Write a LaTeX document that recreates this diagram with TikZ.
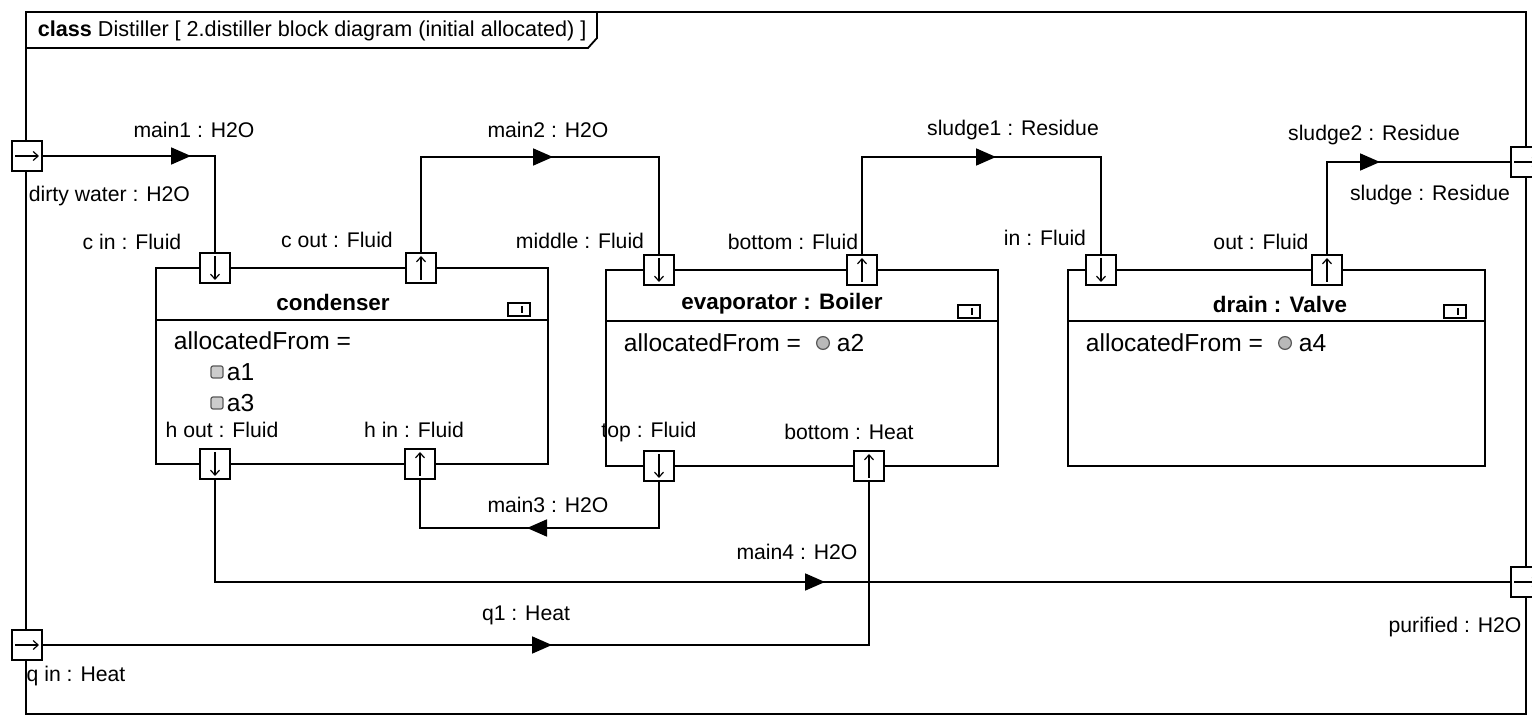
\documentclass[tikz,border=0pt]{standalone}
\usepackage{fontspec}
\setmainfont{Liberation Sans}
\usetikzlibrary{arrows.meta,decorations.markings}

\begin{document}
\begin{tikzpicture}[x=0.5pt, y=-0.5pt, line width=0.9pt,
    lbl/.style={font=\fontsize{10.6}{12}\selectfont, inner sep=0pt},
    body/.style={font=\fontsize{12.3}{14}\selectfont, inner sep=0pt, anchor=west},
    title/.style={font=\fontsize{11.2}{13}\selectfont\bfseries, inner sep=0pt},
    block/.style={draw, inner sep=0pt},
    port/.style={draw, fill=white, minimum size=15pt, inner sep=0pt, line width=0.8pt},
    portin/.style={port, path picture={\draw[line width=0.6pt, -{Straight Barb[length=2.5pt,width=4.5pt]}]
        ([xshift=1.5pt]path picture bounding box.west) -- ([xshift=-1.5pt]path picture bounding box.east);}},
    portdown/.style={port, path picture={\draw[line width=0.6pt, -{Straight Barb[length=2.5pt,width=4.5pt]}]
        ([yshift=-1.5pt]path picture bounding box.north) -- ([yshift=1.5pt]path picture bounding box.south);}},
    portup/.style={port, path picture={\draw[line width=0.6pt, -{Straight Barb[length=2.5pt,width=4.5pt]}]
        ([yshift=1.5pt]path picture bounding box.south) -- ([yshift=-1.5pt]path picture bounding box.north);}},
    flow/.style={draw, postaction={decorate}, decoration={markings,
        mark=at position #1 with {\arrow{Triangle[length=10pt,width=8.5pt]}}}},
    icon/.style={line width=0.6pt}]
    \useasboundingbox (0,0) rectangle (1532,716);
    % frame and header
    \draw (26,12) rectangle (1526,714);
    \draw (26,48) -- (588,48) -- (597,38) -- (597,12);
    \node[anchor=west, inner sep=0pt, font=\fontsize{10.8}{12}\selectfont] (hdr) at (37,31)
        {\textbf{class}\ Distiller [ 2.distiller block diagram (initial allocated) ]};
    % blocks
    \node[block, minimum width=196pt, minimum height=98pt] (cond) at (352,366) {};
    \node[block, minimum width=196pt, minimum height=98pt] (evap) at (802,368) {};
    \node[block, minimum width=208.5pt, minimum height=98pt] (drain) at (1276.5,368) {};
    \draw (cond.west |- 0,320) -- (cond.east |- 0,320);
    \draw (evap.west |- 0,321) -- (evap.east |- 0,321);
    \draw (drain.west |- 0,321) -- (drain.east |- 0,321);
    \node[title] (tcond) at (333,302) {condenser};
    \node[title] (tevap) at (782,304) {evaporator : Boiler};
    \node[title] (tdrain) at (1280,304) {drain : Valve};
    \draw[icon] (508,303) rectangle (530,316) (522,306) -- (522,313);
    \draw[icon] (958,305) rectangle (980,318) (972,308) -- (972,315);
    \draw[icon] (1444,305) rectangle (1466,318) (1458,308) -- (1458,315);
    \node[body] (acond) at (173,341) {allocatedFrom =};
    \draw[icon, gray!70!black, fill=gray!40, rounded corners=1pt] (211,366) rectangle (223,378);
    \node[body] (a1) at (226,372) {a1};
    \draw[icon, gray!70!black, fill=gray!40, rounded corners=1pt] (211,397) rectangle (223,409);
    \node[body] (a3) at (226,403) {a3};
    \node[body] (aevap) at (623,343) {allocatedFrom =};
    \draw[icon, gray!70!black, fill=gray!55] (823,343) circle (3.2pt);
    \node[body] (a2) at (836,343) {a2};
    \node[body] (adrain) at (1085,343) {allocatedFrom =};
    \draw[icon, gray!70!black, fill=gray!55] (1285,343) circle (3.2pt);
    \node[body] (a4) at (1298,343) {a4};
    % connectors
    \path[flow=74.5pt] (27,156) ++(15,0) coordinate (dwe) -| (215,253);
    \path[flow=114pt] (421,253) -- ++(0,-96) -| (659,255);
    \path[flow=116pt] (862,255) -- ++(0,-98) -| (1101,255);
    \path[flow=73pt] (1327,255) |- (1511,162);
    \path[flow=89.5pt] (659,481) -- ++(0,47) -| (420,479);
    \path[flow=356.5pt] (215,479) |- (1511,582);
    \path[flow=255pt] (42,645) -| (869,481);
    % ports
    \node[portin] (dw) at (27,156) {};
    \node[portin] (qin) at (27,645) {};
    \node[portin] (sl) at (1526,162) {};
    \node[portin] (pur) at (1526,582) {};
    \node[portdown] (cin) at (215,268) {};
    \node[portup] (cout) at (421,268) {};
    \node[portdown] (hout) at (215,464) {};
    \node[portup] (hin) at (420,464) {};
    \node[portdown] (mid) at (659,270) {};
    \node[portup] (bot) at (862,270) {};
    \node[portdown] (top) at (659,466) {};
    \node[portup] (heat) at (869,466) {};
    \node[portdown] (din) at (1101,270) {};
    \node[portup] (dout) at (1327,270) {};
    % labels
    \node[lbl] (lmain1) at (194,130) {main1 : H2O};
    \node[lbl, anchor=west] (ldw) at (28,196) {dirty water : H2O};
    \node[lbl] (lcin) at (132,242) {c in : Fluid};
    \node[lbl] (lcout) at (337,240) {c out : Fluid};
    \node[lbl] (lmain2) at (548,130) {main2 : H2O};
    \node[lbl] (lmid) at (580,241) {middle : Fluid};
    \node[lbl] (lbot) at (793,242) {bottom : Fluid};
    \node[lbl] (lsl1) at (1013,130) {sludge1 : Residue};
    \node[lbl] (ldin) at (1045,238) {in : Fluid};
    \node[lbl] (ldout) at (1261,242) {out : Fluid};
    \node[lbl] (lsl2) at (1374,135) {sludge2 : Residue};
    \node[lbl] (lsl) at (1430,195) {sludge : Residue};
    \node[lbl] (lhout) at (222,430) {h out : Fluid};
    \node[lbl] (lhin) at (414,430) {h in : Fluid};
    \node[lbl] (ltop) at (649,432) {top : Fluid};
    \node[lbl] (lheat) at (849,432) {bottom : Heat};
    \node[lbl] (lmain3) at (548,505) {main3 : H2O};
    \node[lbl] (lmain4) at (797,552) {main4 : H2O};
    \node[lbl] (lq1) at (526,615) {q1 : Heat};
    \node[lbl] (lpur) at (1455,627) {purified : H2O};
    \node[lbl] (lqin) at (76,676) {q in : Heat};
\end{tikzpicture}
\end{document}
